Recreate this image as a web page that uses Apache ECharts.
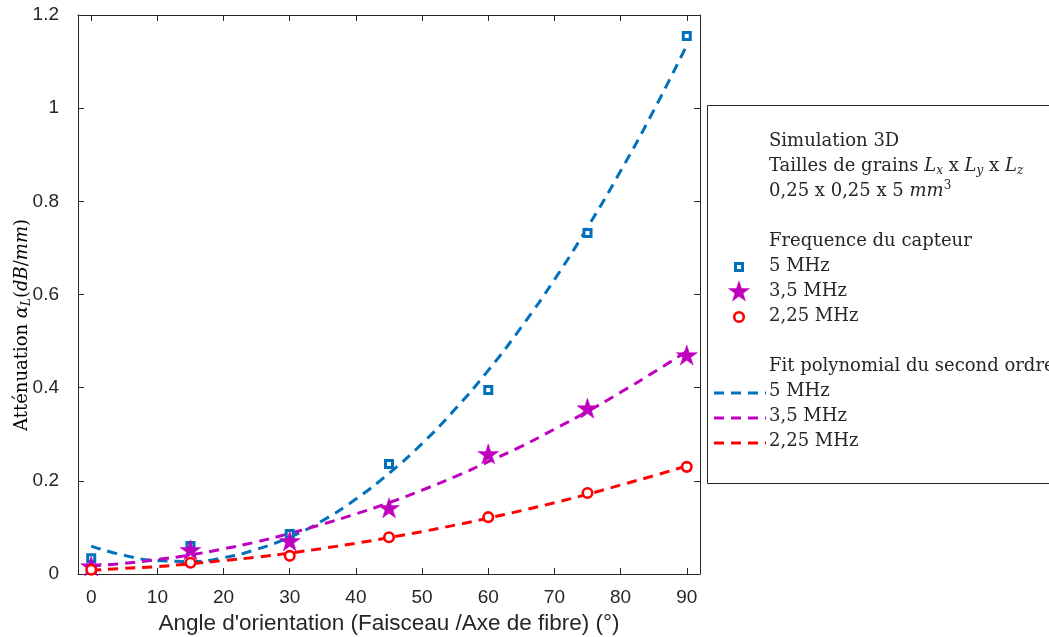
<!DOCTYPE html>
<html>
<head>
<meta charset="utf-8">
<script src="https://cdn.jsdelivr.net/npm/echarts@6/dist/echarts.min.js"></script>
<style>
html,body{margin:0;padding:0;background:#fff;}
#chart{width:1049px;height:637px;}
</style>
</head>
<body>
<div id="chart"></div>
<script>
// ---- data ----
const angles = [0, 15, 30, 45, 60, 75, 90];
const att5 = [0.034, 0.060, 0.086, 0.236, 0.395, 0.732, 1.155];
const att35 = [0.017, 0.052, 0.071, 0.142, 0.258, 0.356, 0.470];
const att225 = [0.009, 0.024, 0.039, 0.079, 0.122, 0.174, 0.230];
// second-order polynomial fit curves, read every 5 degrees
const fitAngles = [0, 5, 10, 15, 20, 25, 30, 35, 40, 45, 50, 55, 60, 65, 70, 75, 80, 85, 90];
const fit5 = [0.060, 0.040, 0.029, 0.027, 0.035, 0.053, 0.079, 0.115, 0.161, 0.216, 0.280, 0.354, 0.437, 0.530, 0.632, 0.744, 0.865, 0.995, 1.135];
const fit35 = [0.017, 0.023, 0.031, 0.041, 0.054, 0.069, 0.087, 0.107, 0.129, 0.153, 0.180, 0.209, 0.241, 0.274, 0.311, 0.349, 0.390, 0.433, 0.478];
const fit225 = [0.008, 0.012, 0.016, 0.022, 0.029, 0.036, 0.045, 0.055, 0.066, 0.078, 0.091, 0.105, 0.120, 0.136, 0.153, 0.171, 0.191, 0.211, 0.232];
const xTicks = [0, 10, 20, 30, 40, 50, 60, 70, 80, 90];
const seriesNames = ['5 MHz', '3,5 MHz', '2,25 MHz'];

const C_BLUE = '#0072BD', C_MAG = '#BF00BF', C_RED = '#FF0000', C_TXT = '#262626';
const SERIF = '"DejaVu Serif", serif';
const SANS = '"Liberation Sans", Arial, sans-serif';
const STAR = 'path://M0,-1 L0.2245,-0.309 L0.951,-0.309 L0.363,0.118 L0.588,0.809 L0,0.382 L-0.588,0.809 L-0.363,0.118 L-0.951,-0.309 L-0.2245,-0.309 Z';

function pairs(xs, ys) { return xs.map((x, i) => [x, ys[i]]); }

const chart = echarts.init(document.getElementById('chart'), null, {renderer: 'canvas'});

const axisCommon = {
  axisLine: {show: true, onZero: false, lineStyle: {color: C_TXT, width: 1}},
  splitLine: {show: false}
};

function starPoints(cx, cy, R, r) {
  const pts = [];
  for (let k = 0; k < 10; k++) {
    const ang = -Math.PI / 2 + k * Math.PI / 5;
    const rad = k % 2 === 0 ? R : r;
    pts.push([cx + rad * Math.cos(ang), cy + rad * Math.sin(ang)]);
  }
  return pts;
}

const richMath = {
  r: {fontFamily: SERIF, fontSize: 18, lineHeight: 22, color: C_TXT},
  i: {fontFamily: SERIF, fontSize: 18, lineHeight: 22, fontStyle: 'italic', color: C_TXT},
  s: {fontFamily: SERIF, fontSize: 12, lineHeight: 12, fontStyle: 'italic', verticalAlign: 'bottom', color: C_TXT},
  p: {fontFamily: SERIF, fontSize: 12, lineHeight: 12, verticalAlign: 'top', color: C_TXT}
};

function legText(y, txt) {
  return {type: 'text', x: 769, y: y, z: 101,
    style: {text: txt, rich: richMath, fontFamily: SERIF, fontSize: 18, fill: C_TXT, verticalAlign: 'middle', align: 'left'}};
}

const option = {
  backgroundColor: '#ffffff',
  animation: false,
  grid: {left: 78, top: 15, right: 349, bottom: 63, containLabel: false, outerBoundsMode: 'none'},
  xAxis: [
    Object.assign({}, axisCommon, {
      type: 'value', min: -2, max: 92, position: 'bottom',
      name: "Angle d'orientation (Faisceau /Axe de fibre) (°)",
      nameLocation: 'middle', nameGap: 36,
      nameTextStyle: {fontFamily: SANS, fontSize: 22.5, color: C_TXT},
      axisTick: {show: true, inside: true, length: 6, customValues: xTicks, lineStyle: {color: C_TXT}},
      axisLabel: {show: true, customValues: xTicks, margin: 14, fontFamily: SANS, fontSize: 19, color: C_TXT}
    }),
    Object.assign({}, axisCommon, {
      type: 'value', min: -2, max: 92, position: 'top',
      axisTick: {show: true, inside: true, length: 6, customValues: xTicks, lineStyle: {color: C_TXT}},
      axisLabel: {show: false, customValues: xTicks}
    })
  ],
  yAxis: [
    Object.assign({}, axisCommon, {
      type: 'value', min: 0, max: 1.2, interval: 0.2, position: 'left',
      axisTick: {show: true, inside: true, length: 6, lineStyle: {color: C_TXT}},
      axisLabel: {show: true, margin: 19, fontFamily: SANS, fontSize: 19, color: C_TXT}
    }),
    Object.assign({}, axisCommon, {
      type: 'value', min: 0, max: 1.2, interval: 0.2, position: 'right',
      axisTick: {show: true, inside: true, length: 6, lineStyle: {color: C_TXT}},
      axisLabel: {show: false}
    })
  ],
  series: [
    {name: seriesNames[0] + ' fit', type: 'line', data: pairs(fitAngles, fit5), smooth: true, symbol: 'none', z: 2,
      lineStyle: {color: C_BLUE, width: 3, type: [10, 7]}},
    {name: seriesNames[1] + ' fit', type: 'line', data: pairs(fitAngles, fit35), smooth: true, symbol: 'none', z: 2,
      lineStyle: {color: C_MAG, width: 3, type: [10, 7]}},
    {name: seriesNames[2] + ' fit', type: 'line', data: pairs(fitAngles, fit225), smooth: true, symbol: 'none', z: 2,
      lineStyle: {color: C_RED, width: 3, type: [10, 7]}},
    {name: seriesNames[0], type: 'scatter', data: pairs(angles, att5), symbol: 'rect', symbolSize: 7, z: 3,
      itemStyle: {color: '#ffffff', borderColor: C_BLUE, borderWidth: 3, opacity: 1}},
    {name: seriesNames[1], type: 'scatter', data: pairs(angles, att35), symbol: STAR, symbolSize: [21, 20], z: 4,
      itemStyle: {color: C_MAG, borderColor: C_MAG, borderWidth: 0.5, opacity: 1}},
    {name: seriesNames[2], type: 'scatter', data: pairs(angles, att225), symbol: 'circle', symbolSize: 9.5, z: 5,
      itemStyle: {color: '#ffffff', borderColor: C_RED, borderWidth: 2.6, opacity: 1}}
  ],
  graphic: [
    // y axis title
    {type: 'text', x: 22, y: 325, rotation: Math.PI / 2, z: 100,
      style: {text: '{r|Atténuation }{i|α}{s|L}{r|(}{i|dB}{r|/}{i|mm}{r|)}', rich: richMath,
        align: 'center', verticalAlign: 'middle'}},
    // legend box
    {type: 'rect', z: 100, shape: {x: 707.5, y: 105.5, width: 420, height: 378},
      style: {fill: '#ffffff', stroke: C_TXT, lineWidth: 1}},
    legText(141, '{r|Simulation 3D}'),
    legText(166, '{r|Tailles de grains }{i|L}{s|x}{r| x }{i|L}{s|y}{r| x }{i|L}{s|z}'),
    legText(191, '{r|0,25 x 0,25 x 5 }{i|mm}{p|3}'),
    legText(241, '{r|Frequence du capteur}'),
    legText(266, '{r|' + seriesNames[0] + '}'),
    legText(291, '{r|' + seriesNames[1] + '}'),
    legText(316, '{r|' + seriesNames[2] + '}'),
    legText(366, '{r|Fit polynomial du second ordre}'),
    legText(391, '{r|' + seriesNames[0] + '}'),
    legText(416, '{r|' + seriesNames[1] + '}'),
    legText(441, '{r|' + seriesNames[2] + '}'),
    // legend markers
    {type: 'rect', z: 102, shape: {x: 735.5, y: 263.5, width: 7, height: 7},
      style: {fill: '#ffffff', stroke: C_BLUE, lineWidth: 3}},
    {type: 'polygon', z: 102, shape: {points: starPoints(739, 292, 11, 4.3)},
      style: {fill: C_MAG, stroke: C_MAG, lineWidth: 0.5}},
    {type: 'circle', z: 102, shape: {cx: 739, cy: 317, r: 4.8},
      style: {fill: '#ffffff', stroke: C_RED, lineWidth: 2.6}},
    // legend line samples
    {type: 'line', z: 102, shape: {x1: 714, y1: 393, x2: 766, y2: 393},
      style: {stroke: C_BLUE, lineWidth: 3, lineDash: [10, 7]}},
    {type: 'line', z: 102, shape: {x1: 714, y1: 418, x2: 766, y2: 418},
      style: {stroke: C_MAG, lineWidth: 3, lineDash: [10, 7]}},
    {type: 'line', z: 102, shape: {x1: 714, y1: 443, x2: 766, y2: 443},
      style: {stroke: C_RED, lineWidth: 3, lineDash: [10, 7]}}
  ]
};
chart.setOption(option);
</script>
</body>
</html>
